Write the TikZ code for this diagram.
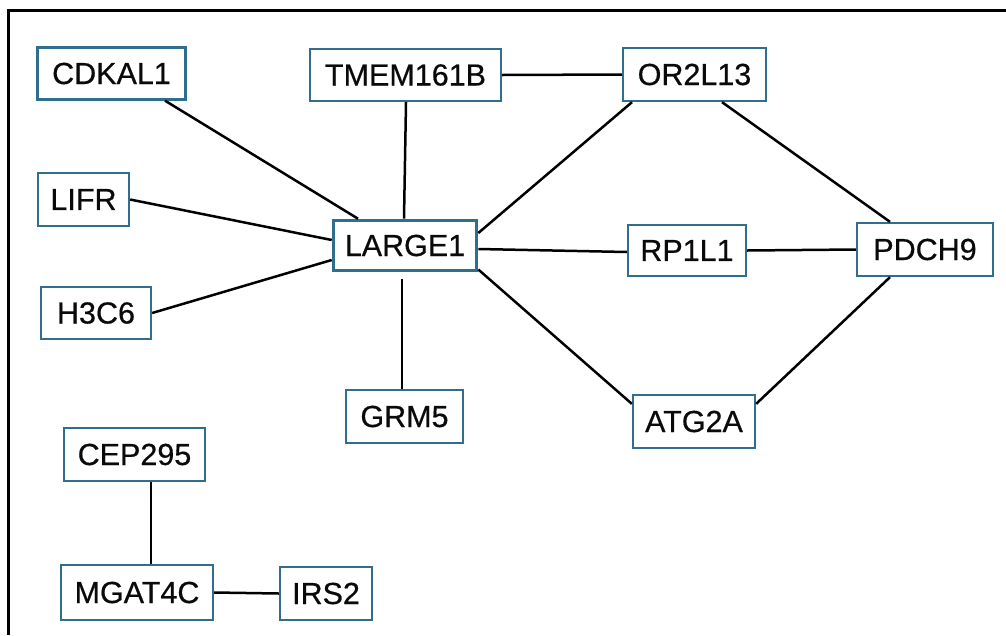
\documentclass[tikz,border=0pt]{standalone}
\usepackage{fontspec}
\setmainfont{Liberation Sans}
\newfontfamily\genefont[FakeBold=0.5]{Liberation Sans}
\definecolor{boxblue}{HTML}{2F6E8C}
\definecolor{txt}{HTML}{0A0A0A}
\tikzset{
  gene/.style={draw=boxblue, line width=2.3pt, fill=white, inner sep=0pt, text=txt,
    font=\genefont\fontsize{30.5}{35}\selectfont},
  hub/.style={gene, line width=3.6pt},
  link/.style={draw=black, line width=2.5pt},
  frame/.style={draw=black, line width=3pt}
}
\begin{document}
\begin{tikzpicture}[x=1pt,y=-1pt]
\useasboundingbox (0,0) rectangle (1006,635);
\draw[frame] (8,635) -- (8,10) -- (1006,10);

\node[gene, minimum width=148pt, minimum height=52pt] (cdk) at (111.5,73.5) {CDKAL1};
\node[gene, minimum width=191pt, minimum height=52pt] (tmem) at (405.5,75) {TMEM161B};
\node[gene, minimum width=143pt, minimum height=53pt] (or) at (694.5,74.5) {OR2L13};
\node[gene, minimum width=91pt, minimum height=53pt] (lifr) at (83.5,199.5) {LIFR};
\node[gene, minimum width=110pt, minimum height=52pt] (h3c) at (96,313) {H3C6};
\node[hub, minimum width=143pt, minimum height=50pt] (large) at (405,245.5) {LARGE1};
\node[gene, minimum width=118pt, minimum height=51pt] (rp) at (687,250.5) {RP1L1};
\node[gene, minimum width=136pt, minimum height=53pt] (pdch) at (925,249.5) {PDCH9};
\node[gene, minimum width=117pt, minimum height=53pt] (grm) at (404.5,416.5) {GRM5};
\node[gene, minimum width=122pt, minimum height=53pt] (atg) at (694,421.5) {ATG2A};
\node[gene, minimum width=141pt, minimum height=53pt] (cep) at (134.5,454.5) {CEP295};
\node[gene, minimum width=152pt, minimum height=55pt] (mg) at (137,592.5) {MGAT4C};
\node[gene, minimum width=92pt, minimum height=53pt] (irs) at (326,593.5) {IRS2};

\draw[link] ([xshift=53.5pt]cdk.south) -- ([xshift=-47pt]large.north);
\draw[link] ([xshift=0.5pt]tmem.south) -- ([xshift=-1pt]large.north);
\draw[link] (tmem.east) -- (or.west);
\draw[link] ([xshift=-62.5pt]or.south) -- ([yshift=12.5pt]large.east);
\draw[link] ([xshift=27.5pt]or.south) -- ([xshift=-35pt]pdch.north);
\draw[link] (lifr.east) -- ([yshift=5.5pt]large.west);
\draw[link] (h3c.east) -- ([yshift=-14.5pt]large.west);
\draw[link] ([yshift=-3.5pt]large.east) -- ([yshift=-1.5pt]rp.west);
\draw[link] (rp.east) -- (pdch.west);
\draw[link] ([xshift=-3pt,yshift=-7pt]large.south) -- ([xshift=-2.5pt]grm.north);
\draw[link] ([yshift=-24pt]large.east) -- ([yshift=-10pt]atg.north west);
\draw[link] ([xshift=-35pt]pdch.south) -- ([yshift=-10pt]atg.north east);
\draw[link] ([xshift=16.5pt]cep.south) -- ([xshift=14pt]mg.north);
\draw[link] (mg.east) -- (irs.west);
\end{tikzpicture}
\end{document}
